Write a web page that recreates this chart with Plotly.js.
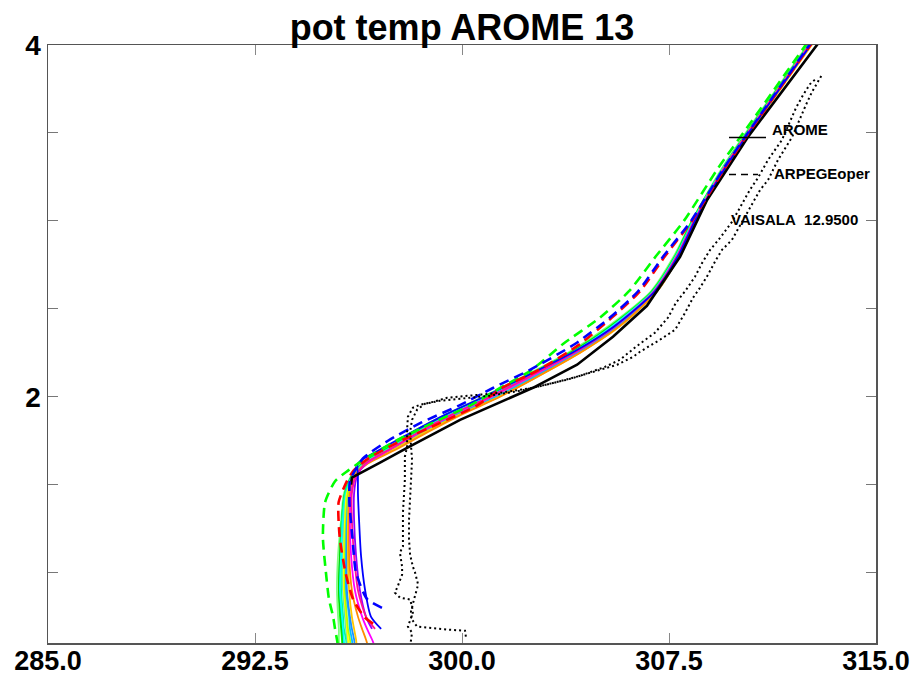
<!DOCTYPE html>
<html>
<head>
<meta charset="utf-8">
<script src="https://cdn.plot.ly/plotly-3.0.1.min.js"></script>
<style>html,body{margin:0;padding:0;background:#fff;}#chart{width:917px;height:679px;}</style>
</head>
<body>
<div id="chart"></div>
<script>
// ---------------- DATA ----------------
// x tick positions / labels
const xTickVals = [285, 292.5, 300, 307.5, 315];
const xTickText = ['285.0', '292.5', '300.0', '307.5', '315.0'];
const yTickVals = [1, 1.5, 2, 2.5, 3, 3.5, 4];
const yTickText = ['', '', '2', '', '', '', '4'];

// shared heights (km) of AROME ensemble members
const heights = [0.5, 0.62, 0.68, 0.75, 0.9, 1.1, 1.3, 1.45, 1.55, 1.62, 1.7, 1.8, 1.9, 2.0, 2.1, 2.25, 2.4, 2.6, 2.8, 3.0, 3.3, 3.6, 4.1];

// AROME ensemble members: potential temperature (K)
const arome01 = [295.69, 295.65, 295.62, 295.58, 295.54, 295.58, 295.65, 295.76, 296.01, 296.38, 297.21, 298.30, 299.49, 300.83, 302.10, 303.91, 305.36, 306.88, 307.72, 308.33, 309.46, 310.76, 313.01];
const arome02 = [295.76, 295.72, 295.69, 295.65, 295.58, 295.62, 295.69, 295.80, 296.05, 296.45, 297.32, 298.41, 299.57, 300.91, 302.17, 303.99, 305.43, 306.92, 307.75, 308.37, 309.46, 310.80, 313.04];
const arome03 = [295.94, 295.87, 295.83, 295.80, 295.72, 295.72, 295.76, 295.83, 296.09, 296.52, 297.46, 298.62, 299.86, 301.27, 302.46, 304.20, 305.65, 307.03, 307.83, 308.41, 309.49, 310.80, 313.04];
const arome04 = [296.74, 296.52, 296.38, 296.23, 296.01, 295.91, 295.91, 295.94, 296.12, 296.59, 297.61, 298.77, 300.00, 301.38, 302.57, 304.28, 305.69, 307.07, 307.86, 308.44, 309.53, 310.83, 313.08];
const arome05 = [297.03, 296.74, 296.56, 296.38, 296.12, 295.98, 295.94, 295.98, 296.16, 296.52, 297.39, 298.48, 299.71, 301.09, 302.32, 304.09, 305.54, 306.96, 307.79, 308.41, 309.49, 310.80, 313.04];
const arome06 = [null, null, 296.85, 296.52, 296.23, 296.09, 296.01, 296.01, 296.16, 296.49, 297.36, 298.44, 299.64, 301.01, 302.25, 304.06, 305.51, 306.96, 307.79, 308.41, 309.49, 310.80, 313.04];
const arome07 = [null, null, 297.07, 296.70, 296.49, 296.34, 296.27, 296.23, 296.23, 296.23, 297.03, 298.19, 299.42, 300.80, 302.10, 303.99, 305.51, 306.99, 307.83, 308.44, 309.53, 310.83, 313.08];
const arome08 = [null, null, 296.74, 296.52, 296.30, 296.16, 296.09, 296.09, 296.20, 296.52, 297.39, 298.48, 299.67, 301.01, 302.28, 304.06, 305.54, 306.99, 307.83, 308.44, 309.53, 310.83, 313.08];
const arome09 = [296.16, 296.09, 296.01, 295.94, 295.83, 295.83, 295.87, 295.94, 296.12, 296.56, 297.54, 298.70, 299.93, 301.34, 302.54, 304.24, 305.69, 307.07, 307.86, 308.44, 309.53, 310.83, 313.08];
const arome10 = [295.83, 295.80, 295.72, 295.69, 295.62, 295.62, 295.65, 295.76, 296.01, 296.41, 297.28, 298.37, 299.57, 300.94, 302.21, 304.02, 305.47, 306.96, 307.79, 308.37, 309.46, 310.76, 313.01];
const arome11 = [296.01, 295.94, 295.87, 295.83, 295.76, 295.76, 295.80, 295.87, 296.09, 296.49, 297.39, 298.51, 299.75, 301.12, 302.39, 304.13, 305.58, 306.99, 307.83, 308.41, 309.49, 310.80, 313.04];
const arome12 = [295.91, 295.83, 295.80, 295.76, 295.69, 295.69, 295.72, 295.83, 296.05, 296.45, 297.36, 298.48, 299.67, 301.05, 302.32, 304.09, 305.54, 306.99, 307.79, 308.41, 309.49, 310.80, 313.04];
const arome13 = [296.23, 296.16, 296.09, 296.01, 295.91, 295.87, 295.87, 295.91, 296.09, 296.52, 297.50, 298.66, 299.93, 301.34, 302.57, 304.28, 305.72, 307.07, 307.86, 308.48, 309.57, 310.87, 313.12];
const arome14 = [295.58, 295.54, 295.54, 295.51, 295.47, 295.51, 295.62, 295.72, 295.98, 296.34, 297.17, 298.22, 299.42, 300.76, 302.03, 303.84, 305.29, 306.85, 307.68, 308.33, 309.42, 310.72, 312.97];
const arome15 = [296.09, 296.01, 295.94, 295.91, 295.80, 295.80, 295.83, 295.91, 296.12, 296.52, 297.46, 298.59, 299.82, 301.23, 302.46, 304.17, 305.62, 307.03, 307.83, 308.44, 309.53, 310.83, 313.08];
const arome16 = [295.72, 295.69, 295.65, 295.62, 295.54, 295.58, 295.65, 295.76, 296.01, 296.38, 297.25, 298.33, 299.53, 300.87, 302.14, 303.95, 305.40, 306.92, 307.75, 308.37, 309.46, 310.76, 313.01];

// AROME reference (black solid)
const refHeights = [1.50, 1.54, 1.625, 1.71, 1.869, 2.051, 2.182, 2.341, 2.517, 2.795, 3.119, 3.477, 4.05];
const refTheta   = [295.98, 296.01, 297.03, 298.01, 299.93, 302.57, 304.17, 305.47, 306.70, 307.90, 308.88, 310.36, 313.10];

// ARPEGE oper (dashed)
const arpGreenH = [0.5, 0.62, 0.68, 0.75, 0.85, 1.0, 1.2, 1.4, 1.52, 1.58, 1.65, 1.75, 1.85, 1.95, 2.05, 2.15, 2.3, 2.45, 2.6, 2.8, 3.0, 3.3, 3.6, 4.1];
const arpGreenT = [295.58, 295.47, 295.40, 295.33, 295.18, 295.07, 294.96, 295.04, 295.40, 295.87, 296.52, 297.61, 298.91, 300.29, 301.38, 302.50, 303.66, 305.00, 306.05, 307.03, 308.04, 309.28, 310.65, 312.90];
const arpBlueH = [0.80, 0.85, 1.0, 1.2, 1.4, 1.52, 1.58, 1.65, 1.75, 1.85, 1.95, 2.05, 2.15, 2.3, 2.45, 2.6, 2.8, 3.0, 3.3, 3.6, 4.1];
const arpBlueT = [297.10, 296.56, 296.16, 296.03, 295.92, 295.94, 296.12, 296.41, 297.32, 298.48, 299.89, 301.12, 302.43, 304.09, 305.36, 306.38, 307.30, 308.30, 309.49, 310.80, 313.04];
const arpRedH = [0.71, 0.75, 0.85, 1.0, 1.2, 1.4, 1.52, 1.58, 1.65, 1.75, 1.85, 1.95, 2.05, 2.15, 2.3, 2.45, 2.6, 2.8, 3.0, 3.3, 3.6, 4.1];
const arpRedT = [296.78, 296.45, 296.05, 295.78, 295.57, 295.53, 295.83, 296.07, 296.61, 297.79, 299.19, 300.54, 301.45, 302.75, 304.28, 305.43, 306.45, 307.36, 308.33, 309.53, 310.83, 313.08];

// VAISALA radiosonde (dotted), two traces
const vaisA_T = [298.12, 298.19, 298.04, 298.12, 298.22, 298.19, 298.12, 297.75, 297.57, 297.68, 297.83, 297.83, 297.75, 297.86, 297.86, 297.86, 297.93, 297.93, 298.01, 298.01, 298.04, 298.22, 298.48, 298.84, 299.46, 300.18, 300.65, 301.38, 302.57, 303.80, 305.00, 305.62, 306.20, 306.45, 307.17, 307.72, 308.08, 308.37, 308.62, 308.91, 309.20, 309.42, 309.78, 310.14, 310.51, 310.80, 311.09, 311.45, 311.96, 312.25, 312.46, 312.68, 312.90, 313.04];
const vaisA_H = [0.58, 0.659, 0.693, 0.733, 0.773, 0.807, 0.847, 0.858, 0.886, 0.926, 0.989, 1.034, 1.114, 1.148, 1.227, 1.341, 1.528, 1.659, 1.716, 1.813, 1.886, 1.938, 1.955, 1.966, 1.994, 2.006, 2.011, 2.023, 2.051, 2.097, 2.153, 2.182, 2.227, 2.256, 2.324, 2.381, 2.477, 2.563, 2.619, 2.693, 2.778, 2.835, 2.892, 2.994, 3.091, 3.176, 3.233, 3.347, 3.477, 3.585, 3.659, 3.733, 3.790, 3.830];
const vaisB_T = [300.14, 300.11, 299.46, 298.84, 298.37, 298.19, 298.15, 298.26, 298.41, 298.30, 298.22, 298.12, 298.08, 298.08, 298.12, 298.15, 298.19, 298.15, 298.12, 298.19, 298.37, 298.66, 299.20, 299.93, 301.01, 302.10, 303.19, 304.28, 305.18, 305.72, 306.30, 306.99, 307.46, 307.75, 308.12, 308.44, 308.70, 308.99, 309.35, 309.78, 310.14, 310.43, 310.72, 311.09, 311.59, 311.88, 312.10, 312.36, 312.61, 312.86];
const vaisB_H = [0.636, 0.670, 0.676, 0.688, 0.693, 0.733, 0.778, 0.847, 0.932, 1.000, 1.034, 1.102, 1.188, 1.301, 1.415, 1.528, 1.642, 1.727, 1.801, 1.869, 1.926, 1.960, 1.977, 1.989, 2.006, 2.034, 2.074, 2.119, 2.170, 2.210, 2.284, 2.364, 2.449, 2.534, 2.608, 2.682, 2.761, 2.835, 2.903, 2.994, 3.091, 3.176, 3.244, 3.347, 3.460, 3.563, 3.642, 3.716, 3.778, 3.813];

// legend texts
const legendTexts = ['AROME', 'ARPEGEoper', 'VAISALA  12.9500'];
const titleText = 'pot temp AROME 13';

// ---------------- STYLE / BUILD ----------------
// drawing order: greens first, warmer / bluer colours on top so the spread shows
const members = [arome14, arome01, arome16, arome10, arome02, arome12, arome03, arome11,
                 arome15, arome09, arome13, arome04, arome08, arome05, arome06, arome07];
const memberColors = ['#7cff7c', '#00ff00', '#00d400', '#00ff80', '#00ffff', '#40e0d0', '#ffff00', '#b0ff00',
                      '#00bfff', '#1e90ff', '#ffc800', '#ff8c00', '#9400ff', '#ff00ff', '#ff1493', '#0000ff'];
const FONT = 'Liberation Sans, Arial, Helvetica, sans-serif';

const traces = [];
members.forEach((m, i) => {
  traces.push({x: m, y: heights, type: 'scatter', mode: 'lines', connectgaps: false,
    line: {color: memberColors[i], width: 1.8, shape: 'spline', smoothing: 0.7}, hoverinfo: 'skip'});
});
traces.push({x: refTheta, y: refHeights, type: 'scatter', mode: 'lines',
  line: {color: '#000000', width: 2.6}, hoverinfo: 'skip'});
[[arpGreenT, arpGreenH, '#00ff00'], [arpRedT, arpRedH, '#ff0000'], [arpBlueT, arpBlueH, '#0000ff']].forEach(d => {
  traces.push({x: d[0], y: d[1], type: 'scatter', mode: 'lines',
    line: {color: d[2], width: 2.6, dash: '10px,6px', shape: 'spline', smoothing: 0.6}, hoverinfo: 'skip'});
});
[[vaisA_T, vaisA_H], [vaisB_T, vaisB_H]].forEach(d => {
  traces.push({x: d[0], y: d[1], type: 'scatter', mode: 'lines',
    line: {color: '#000000', width: 2, dash: '2px,3px'}, hoverinfo: 'skip'});
});

const L = 48, R = 876, T = 45, B = 643;
const px2paperX = p => (p - L) / (R - L);
const px2paperY = p => (B - p) / (B - T);

const layout = {
  width: 917, height: 679,
  margin: {l: L, r: 917 - R, t: T, b: 679 - B, pad: 0},
  paper_bgcolor: '#ffffff', plot_bgcolor: '#ffffff',
  showlegend: false,
  title: {text: titleText, x: 0.5, xref: 'paper', y: 1 - 27 / 679, yref: 'container', yanchor: 'middle',
          font: {family: FONT, size: 36, weight: 'bold', color: '#000'}},
  xaxis: {range: [285, 315], tickmode: 'array', tickvals: xTickVals, ticktext: xTickText,
          ticks: 'inside', ticklen: 10, tickwidth: 1, tickcolor: '#888', ticklabelstandoff: -7,
          showline: true, linecolor: '#555', linewidth: 1.5, mirror: 'ticks',
          showgrid: false, zeroline: false,
          tickfont: {family: FONT, size: 27, weight: 'bold', color: '#000'}},
  yaxis: {range: [0.6, 4], tickmode: 'array', tickvals: yTickVals, ticktext: yTickText,
          ticks: 'inside', ticklen: 10, tickwidth: 1, tickcolor: '#777',
          showline: true, linecolor: '#555', linewidth: 1.5, mirror: 'ticks',
          showgrid: false, zeroline: false,
          tickfont: {family: FONT, size: 28, weight: 'bold', color: '#000'}},
  shapes: [
    {type: 'line', xref: 'paper', yref: 'paper', x0: px2paperX(729), x1: px2paperX(766),
     y0: px2paperY(137.5), y1: px2paperY(137.5), line: {color: '#000', width: 1.3}},
    {type: 'line', xref: 'paper', yref: 'paper', x0: px2paperX(729), x1: px2paperX(758),
     y0: px2paperY(174.5), y1: px2paperY(174.5), line: {color: '#000', width: 1.6, dash: '7px,5px'}}
  ],
  annotations: [
    {text: legendTexts[0], xref: 'paper', yref: 'paper', x: px2paperX(770), y: px2paperY(129),
     xanchor: 'left', yanchor: 'middle', showarrow: false, font: {family: FONT, size: 15, weight: 'bold', color: '#000'}},
    {text: legendTexts[1], xref: 'paper', yref: 'paper', x: px2paperX(772), y: px2paperY(174),
     xanchor: 'left', yanchor: 'middle', showarrow: false, font: {family: FONT, size: 15, weight: 'bold', color: '#000'}},
    {text: legendTexts[2].replace(/ /g, '&nbsp;'), xref: 'paper', yref: 'paper', x: px2paperX(729), y: px2paperY(219),
     xanchor: 'left', yanchor: 'middle', showarrow: false, font: {family: FONT, size: 15, weight: 'bold', color: '#000'}}
  ]
};

Plotly.newPlot('chart', traces, layout, {staticPlot: true, displayModeBar: false});
</script>
</body>
</html>
